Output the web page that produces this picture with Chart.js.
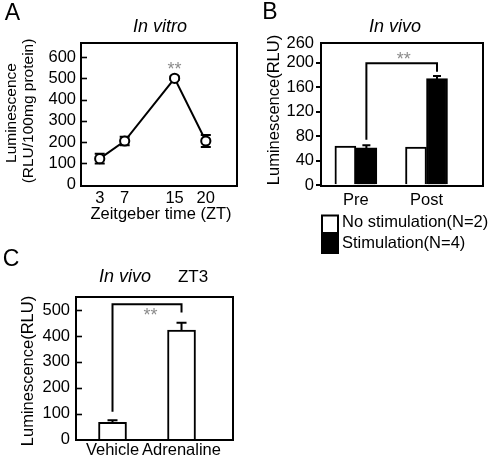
<!DOCTYPE html>
<html><head><meta charset="utf-8">
<script src="https://cdn.jsdelivr.net/npm/chart.js@4.4.1/dist/chart.umd.min.js"></script>
<style>
html,body{margin:0;padding:0;background:#fff;}
#wrap{position:relative;width:490px;height:468px;overflow:hidden;background:#fff;}
canvas{position:absolute;left:0;top:0;}
</style></head><body>
<div id="wrap">
<canvas id="cA" width="490" height="468"></canvas>
<canvas id="cB" width="490" height="468"></canvas>
<canvas id="cC" width="490" height="468"></canvas>
</div>
<script>
// ---------- Panel A : In vitro ----------
const ztTimes = [3, 7, 15, 20];
const lumA = [122, 205, 500, 205];
const lumAErr = [23, 20, 8, 28];
const yTicksA = [0, 100, 200, 300, 400, 500, 600];

// ---------- Panel B : In vivo ----------
const phasesB = ['Pre', 'Post'];
const seriesNamesB = ['No stimulation(N=2)', 'Stimulation(N=4)'];
const noStimB = [64, 62];
const stimB = [61, 174];
const stimErrB = [4, 4];
const yTicksB = [0, 40, 80, 120, 160, 200];
const yTopLabelB = '260';
const bracketB = { y: 199, leftFrom: 74, rightFrom: 185 };

// ---------- Panel C : In vivo ZT3 ----------
const treatmentsC = ['Vehicle', 'Adrenaline'];
const lumC = [67, 423];
const lumCErr = [8, 28];
const yTicksC = [0, 100, 200, 300, 400, 500];
const bracketC = { y: 523, leftFrom: 108, rightFrom: 491 };

const FONT = "'Liberation Sans', Arial, Helvetica, sans-serif";
const TICK = 16.5;
Chart.defaults.font.family = FONT;
Chart.defaults.font.size = TICK;
Chart.defaults.color = '#000';

function drawText(ctx, s, x, y, size, o = {}) {
  ctx.save();
  ctx.font = (o.italic ? 'italic ' : '') + size + 'px ' + FONT;
  ctx.fillStyle = o.color || '#000';
  ctx.textAlign = o.align || 'center';
  ctx.textBaseline = o.baseline || 'middle';
  if (o.rotate) { ctx.translate(x, y); ctx.rotate(o.rotate); ctx.fillText(s, 0, 0); }
  else ctx.fillText(s, x, y);
  ctx.restore();
}
function frame(chart) {
  const a = chart.chartArea, ctx = chart.ctx;
  ctx.save(); ctx.strokeStyle = '#000'; ctx.lineWidth = 2;
  ctx.strokeRect(a.left, a.top, a.right - a.left, a.bottom - a.top);
  ctx.restore();
}
function inwardTicks(chart) {
  const ys = chart.scales.y, a = chart.chartArea, ctx = chart.ctx;
  ctx.save(); ctx.strokeStyle = '#000'; ctx.lineWidth = 1.6;
  ys.ticks.forEach(t => {
    if (t.value <= 0 || t.value >= ys.max) return;
    const y = Math.round(ys.getPixelForValue(t.value)) + 0.5;
    ctx.beginPath(); ctx.moveTo(a.left, y); ctx.lineTo(a.left + 6, y); ctx.stroke();
  });
  ctx.restore();
}
function errBar(ctx, x, yLo, yHi, half, both) {
  ctx.beginPath();
  ctx.moveTo(x, yLo); ctx.lineTo(x, yHi);
  ctx.moveTo(x - half, yHi); ctx.lineTo(x + half, yHi);
  if (both) { ctx.moveTo(x - half, yLo); ctx.lineTo(x + half, yLo); }
  ctx.stroke();
}
function stars(ctx, x, yc) {
  drawText(ctx, '**', x, yc + 10, 18, { baseline: 'alphabetic', color: '#8c8c8c' });
}
function bracket(chart, meta, br) {
  const ctx = chart.ctx, ys = chart.scales.y;
  const x1 = meta.data[0].x, x2 = meta.data[1].x;
  ctx.save(); ctx.strokeStyle = '#000'; ctx.lineWidth = 2;
  ctx.beginPath();
  ctx.moveTo(x1, ys.getPixelForValue(br.leftFrom));
  ctx.lineTo(x1, ys.getPixelForValue(br.y));
  ctx.lineTo(x2, ys.getPixelForValue(br.y));
  ctx.lineTo(x2, ys.getPixelForValue(br.rightFrom));
  ctx.stroke(); ctx.restore();
  return { x1, x2, y: ys.getPixelForValue(br.y) };
}
function fixedTicks(values) { return s => { s.ticks = values.map(v => ({ value: v })); }; }
const setW = w => s => { s.width = w; };
const setH = h => s => { s.height = h; };
const baseOpts = (pad) => ({
  responsive: false, animation: false, devicePixelRatio: 1,
  layout: { padding: pad },
  plugins: { legend: { display: false }, tooltip: { enabled: false } },
  events: []
});

// ---------- Chart A ----------
const plugA = {
  id: 'plugA',
  beforeDatasetsDraw(chart) {
    const ctx = chart.ctx, xs = chart.scales.x, ys = chart.scales.y;
    ctx.save(); ctx.strokeStyle = '#000'; ctx.lineWidth = 2;
    ztTimes.forEach((t, i) => {
      errBar(ctx, xs.getPixelForValue(t), ys.getPixelForValue(lumA[i] - lumAErr[i]),
        ys.getPixelForValue(lumA[i] + lumAErr[i]), 5, true);
    });
    ctx.restore();
  },
  afterDraw(chart) {
    const ctx = chart.ctx, xs = chart.scales.x, ys = chart.scales.y;
    frame(chart); inwardTicks(chart);
    const pk = lumA.indexOf(Math.max(...lumA));
    stars(ctx, xs.getPixelForValue(ztTimes[pk]), ys.getPixelForValue(lumA[pk]) - 13);
    drawText(ctx, 'A', 12.5, 14, 23);
    drawText(ctx, 'In vitro', 160, 27, 18, { italic: true });
    drawText(ctx, 'Zeitgeber time (ZT)', 161, 214, 16.5);
    drawText(ctx, 'Luminescence', 12, 113, 15.5, { rotate: -Math.PI / 2 });
    drawText(ctx, '(RLU/100mg protein)', 29, 111, 15.5, { rotate: -Math.PI / 2 });
  }
};
new Chart(document.getElementById('cA'), {
  type: 'line',
  data: { datasets: [{
    label: 'In vitro',
    data: ztTimes.map((t, i) => ({ x: t, y: lumA[i] })),
    borderColor: '#000', borderWidth: 2, tension: 0, fill: false,
    pointRadius: 4.6, pointBorderWidth: 2, pointBackgroundColor: '#fff', pointBorderColor: '#000'
  }] },
  options: Object.assign(baseOpts({ left: 0, top: 43, right: 253, bottom: 0 }), {
    scales: {
      x: { type: 'linear', min: 0, max: 25, afterBuildTicks: fixedTicks(ztTimes), afterFit: setH(282),
        grid: { display: false, drawTicks: false }, border: { display: false },
        ticks: { padding: 3, autoSkip: false, maxRotation: 0, callback: v => String(v) } },
      y: { type: 'linear', min: -6.6, max: 666, afterBuildTicks: fixedTicks(yTicksA), afterFit: setW(81),
        grid: { display: false, drawTicks: false }, border: { display: false },
        ticks: { padding: 5, autoSkip: false, callback: v => String(v) } }
    }
  }),
  plugins: [plugA]
});

// ---------- Chart B ----------
const maxB = 232;
const plugB = {
  id: 'plugB',
  afterDatasetsDraw(chart) {
    const ctx = chart.ctx, ys = chart.scales.y;
    const meta = chart.getDatasetMeta(1);
    ctx.save(); ctx.strokeStyle = '#000'; ctx.lineWidth = 2;
    meta.data.forEach((bar, i) => {
      errBar(ctx, bar.x, ys.getPixelForValue(stimB[i]) + 1, ys.getPixelForValue(stimB[i] + stimErrB[i]), 4, false);
    });
    ctx.restore();
    const br = bracket(chart, meta, bracketB);
    stars(ctx, (br.x1 + br.x2) / 2 + 2, br.y - 8);
  },
  afterDraw(chart) {
    const ctx = chart.ctx;
    frame(chart);
    drawText(ctx, 'B', 270, 13, 23);
    drawText(ctx, 'In vivo', 395, 27, 18, { italic: true });
    drawText(ctx, 'Luminescence(RLU)', 274, 110, 16.5, { rotate: -Math.PI / 2 });
    // legend
    const ds = chart.data.datasets;
    const rows = [222, 243];
    ds.forEach((d, i) => {
      ctx.save();
      ctx.fillStyle = d.backgroundColor; ctx.strokeStyle = '#000'; ctx.lineWidth = 2;
      const top = i === 0 ? 215.5 : 234;
      const h = i === 0 ? 17.5 : 19;
      ctx.fillRect(322, top, 16, h);
      ctx.strokeRect(322, top, 16, h);
      ctx.restore();
      drawText(ctx, d.label, 342, rows[i], 16.5, { align: 'left' });
    });
  }
};
new Chart(document.getElementById('cB'), {
  type: 'bar',
  data: { datasets: [
    { label: seriesNamesB[0], data: noStimB.map((v, i) => ({ x: i + 1, y: v })),
      backgroundColor: '#fff', borderColor: '#000', borderWidth: 2, barThickness: 21 },
    { label: seriesNamesB[1], data: stimB.map((v, i) => ({ x: i + 1, y: v })),
      backgroundColor: '#000', borderColor: '#000', borderWidth: 2, barThickness: 21 }
  ] },
  options: Object.assign(baseOpts({ left: 0, top: 43, right: 7, bottom: 0 }), {
    scales: {
      x: { type: 'linear', offset: false, min: 0.506, max: 2.8, afterBuildTicks: fixedTicks([1, 2]), afterFit: setH(282),
        grid: { display: false, drawTicks: false, offset: false }, border: { display: false },
        ticks: { padding: 5, autoSkip: false, maxRotation: 0, callback: v => phasesB[Math.round(v) - 1] } },
      y: { type: 'linear', min: -1.3, max: maxB, afterBuildTicks: fixedTicks(yTicksB.concat([maxB])), afterFit: setW(321),
        grid: { display: true, drawOnChartArea: false, drawTicks: true, tickLength: 5, lineWidth: 2,
          color: c => (c.tick && c.tick.value === maxB) ? 'rgba(0,0,0,0)' : '#000' },
        border: { display: false },
        ticks: { padding: 2, autoSkip: false, callback: v => v === maxB ? yTopLabelB : String(v) } }
    }
  }),
  plugins: [plugB]
});

// ---------- Chart C ----------
const plugC = {
  id: 'plugC',
  afterDatasetsDraw(chart) {
    const ctx = chart.ctx, ys = chart.scales.y;
    const meta = chart.getDatasetMeta(0);
    ctx.save(); ctx.strokeStyle = '#000'; ctx.lineWidth = 2;
    meta.data.forEach((bar, i) => {
      errBar(ctx, bar.x, ys.getPixelForValue(lumC[i]) + 1, ys.getPixelForValue(lumC[i] + lumCErr[i]), 5, false);
    });
    ctx.restore();
    const br = bracket(chart, meta, bracketC);
    stars(ctx, br.x1 + 38, br.y + 7);
  },
  afterDraw(chart) {
    const ctx = chart.ctx;
    frame(chart); inwardTicks(chart);
    drawText(ctx, 'C', 11, 260, 23);
    drawText(ctx, 'In vivo', 125, 277, 18, { italic: true });
    drawText(ctx, 'ZT3', 193, 277, 17);
    drawText(ctx, 'Luminescence(RLU)', 28, 371, 16.5, { rotate: -Math.PI / 2 });
  }
};
new Chart(document.getElementById('cC'), {
  type: 'bar',
  data: { datasets: [
    { label: 'Luminescence', data: lumC.map((v, i) => ({ x: i + 1, y: v })),
      backgroundColor: '#fff', borderColor: '#000', borderWidth: 2, barThickness: 28 }
  ] },
  options: Object.assign(baseOpts({ left: 0, top: 297, right: 257, bottom: 0 }), {
    scales: {
      x: { type: 'linear', offset: false, min: 0.471, max: 2.746, afterBuildTicks: fixedTicks([1, 2]), afterFit: setH(28),
        grid: { display: false, drawTicks: false, offset: false }, border: { display: false },
        ticks: { padding: 1, autoSkip: false, maxRotation: 0, callback: v => treatmentsC[Math.round(v) - 1] } },
      y: { type: 'linear', min: -1.5, max: 550.6, afterBuildTicks: fixedTicks(yTicksC), afterFit: setW(76),
        grid: { display: false, drawTicks: false }, border: { display: false },
        ticks: { padding: 6, autoSkip: false, callback: v => String(v) } }
    }
  }),
  plugins: [plugC]
});
</script>
</body></html>
